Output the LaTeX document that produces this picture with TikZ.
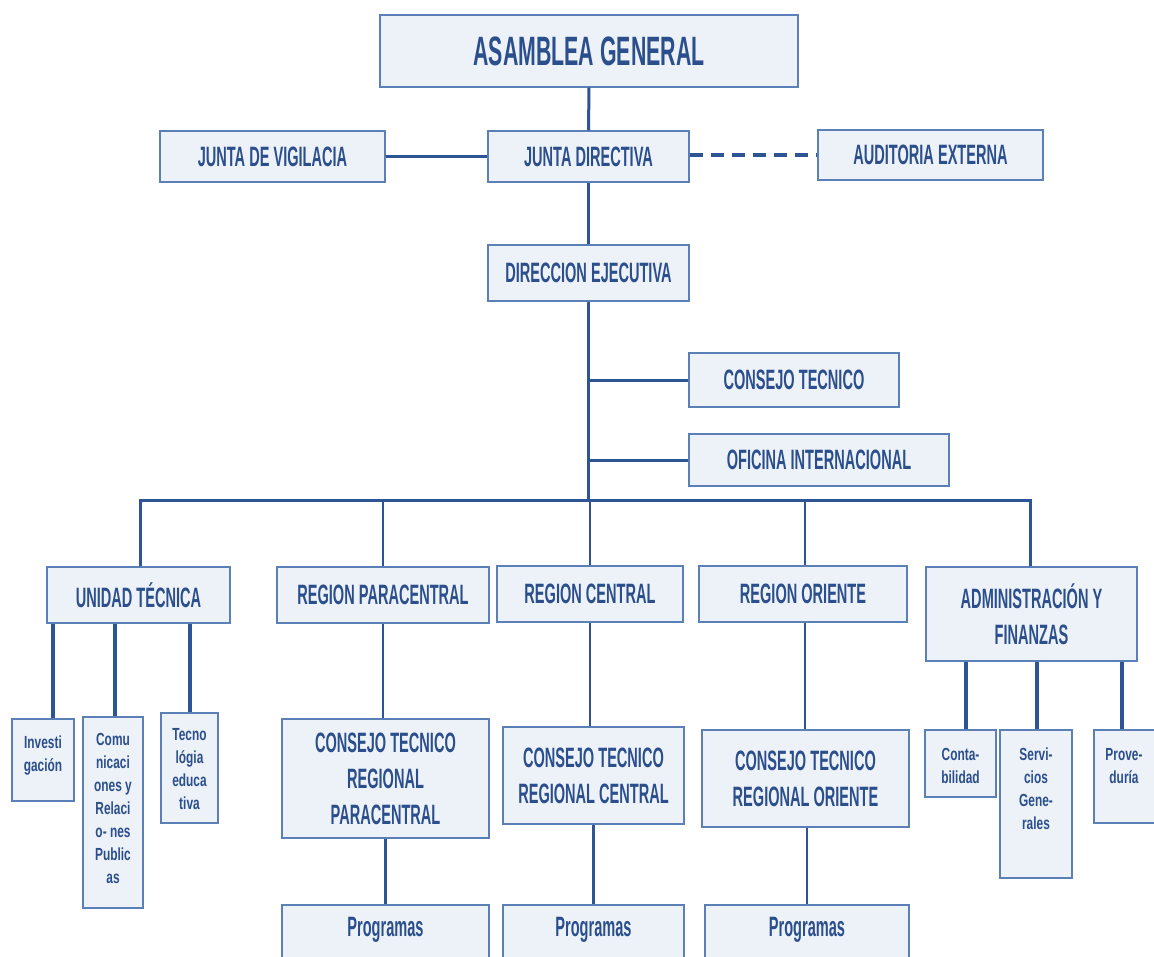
\documentclass[tikz,border=0pt]{standalone}
\usepackage{fontspec}
\newfontfamily\cfont[FakeStretch=0.52]{Liberation Sans}
\newfontfamily\sfont[FakeStretch=0.68]{Liberation Sans}
\usetikzlibrary{calc}
\definecolor{txt}{HTML}{2B4F8C}
\definecolor{bord}{HTML}{5B7FB7}
\definecolor{boxfill}{HTML}{EDF1F8}
\definecolor{conn}{HTML}{2D5595}
\tikzset{
  box/.style={draw=bord, fill=boxfill, line width=1.2pt, inner sep=0pt, text=txt, align=center,
    font={\cfont\bfseries\fontsize{28}{36}\selectfont}},
  bigtxt/.style={font={\cfont\bfseries\fontsize{41}{46}\selectfont}},
  smalltxt/.style={inner sep=0pt, text=txt, align=center, anchor=north,
    font={\sfont\bfseries\fontsize{17.5}{23}\selectfont}},
  progtxt/.style={inner sep=0pt, text=txt, font={\cfont\bfseries\fontsize{28}{36}\selectfont}},
  link/.style={draw=conn, line width=3pt},
  thinlink/.style={draw=conn, line width=2.5pt},
  thicklink/.style={draw=conn, line width=4pt},
  dlink/.style={draw=conn, line width=4pt, dash pattern=on 13pt off 8pt}
}
\begin{document}
\begin{tikzpicture}[x=1pt,y=-1pt]
\useasboundingbox (0,0) rectangle (1154,956);
\clip (0,0) rectangle (1154,956);
\fill[white] (0,0) rectangle (1154,956);

% top levels
\node[box, bigtxt, minimum width=418pt, minimum height=72pt] (asamblea) at (589,51) {ASAMBLEA GENERAL};
\node[box, minimum width=225pt, minimum height=51pt] (vigil) at (272.5,156.5) {JUNTA DE VIGILACIA};
\node[box, minimum width=201pt, minimum height=51pt] (directiva) at (588.5,156.5) {JUNTA DIRECTIVA};
\node[box, minimum width=225pt, minimum height=50pt] (auditoria) at (930.5,155) {AUDITORIA EXTERNA};
\node[box, minimum width=201pt, minimum height=56pt] (direccion) at (588.5,273) {DIRECCION EJECUTIVA};
\node[box, minimum width=210pt, minimum height=54pt] (consejo) at (794,380) {CONSEJO TECNICO};
\node[box, minimum width=260pt, minimum height=52pt] (oficina) at (819,460) {OFICINA INTERNACIONAL};

% second row
\node[box, minimum width=183pt, minimum height=56pt] (unidad) at (138.5,595) {UNIDAD TÉCNICA};
\node[box, minimum width=212pt, minimum height=56pt] (rpara) at (383,595) {REGION PARACENTRAL};
\node[box, minimum width=186pt, minimum height=56pt] (rcentral) at (590,594) {REGION CENTRAL};
\node[box, minimum width=208pt, minimum height=56pt] (roriente) at (803,594) {REGION ORIENTE};
\node[box, minimum width=211pt, minimum height=94pt] (admin) at (1031.5,614) {ADMINISTRACIÓN Y\\FINANZAS};

% unidad tecnica children
\node[box, minimum width=62pt, minimum height=82pt] (inv) at (43,760) {};
\node[smalltxt] (invt) at (43,736) {Investi\\gación};
\node[box, minimum width=60pt, minimum height=191pt] (com) at (113,812.5) {};
\node[smalltxt] (comt) at (113,733) {Comu\\nicaci\\ones y\\Relaci\\o- nes\\Public\\as};
\node[box, minimum width=57pt, minimum height=110pt] (tec) at (189.5,768) {};
\node[smalltxt] (tect) at (189.5,728) {Tecno\\lógia\\educa\\tiva};

% admin children
\node[box, minimum width=71pt, minimum height=67pt] (cont) at (960.5,763.5) {};
\node[smalltxt] (contt) at (960.5,748) {Conta-\\bilidad};
\node[box, minimum width=72pt, minimum height=148pt] (serv) at (1036,804) {};
\node[smalltxt] (servt) at (1036,748) {Servi-\\cios\\Gene-\\rales};
\node[box, minimum width=66pt, minimum height=93pt] (prov) at (1127,776.5) {};
\node[smalltxt] (provt) at (1124,748) {Prove-\\duría};

% regional councils
\node[box, minimum width=207pt, minimum height=119pt] (ctrp) at (385.5,778.5) {CONSEJO TECNICO\\REGIONAL\\PARACENTRAL};
\node[box, minimum width=181pt, minimum height=97pt] (ctrc) at (593.5,775.5) {CONSEJO TECNICO\\REGIONAL CENTRAL};
\node[box, minimum width=207pt, minimum height=97pt] (ctro) at (805.5,778.5) {CONSEJO TECNICO\\REGIONAL ORIENTE};

% programas
\node[box, minimum width=207pt, minimum height=70pt] (progp) at (385.5,940) {};
\node[progtxt] (progpt) at (385.5,930) {Programas};
\node[box, minimum width=181pt, minimum height=70pt] (progc) at (593.5,940) {};
\node[progtxt] (progct) at (593.5,930) {Programas};
\node[box, minimum width=204pt, minimum height=70pt] (progo) at (807,940) {};
\node[progtxt] (progot) at (807,930) {Programas};

\coordinate (bus) at (0,500);

% connectors
\draw[link] (asamblea.south) -- (directiva.north);
\draw[link] (vigil.east) -- (vigil.east -| directiva.west);
\draw[dlink] (auditoria.west -| directiva.east) -- (auditoria.west);
\draw[link] (directiva.south) -- (direccion.north);
\draw[link] (direccion.south) -- (direccion.south |- bus);
\draw[link] (direccion.south |- consejo.west) -- (consejo.west);
\draw[link] (direccion.south |- oficina.west) -- (oficina.west);

\draw[link, line cap=rect] ([xshift=1.5pt]unidad.north |- bus) -- ([xshift=-1.5pt]admin.north |- bus);
\draw[link] ([xshift=1.5pt]unidad.north) -- ([xshift=1.5pt]unidad.north |- bus);
\draw[thinlink] (rpara.north) -- (rpara.north |- bus);
\draw[thinlink] (rcentral.north) -- (rcentral.north |- bus);
\draw[thinlink] ([xshift=2pt]roriente.north) -- ([xshift=2pt]roriente.north |- bus);
\draw[link] ([xshift=-1.5pt]admin.north) -- ([xshift=-1.5pt]admin.north |- bus);

\draw[thicklink] ([xshift=10pt]inv.north) -- ([xshift=10pt]inv.north |- unidad.south);
\draw[thicklink] ([xshift=2pt]com.north) -- ([xshift=2pt]com.north |- unidad.south);
\draw[thicklink] (tec.north) -- (tec.north |- unidad.south);

\draw[thicklink] ([xshift=5.5pt]cont.north) -- ([xshift=5.5pt]cont.north |- admin.south);
\draw[thicklink] ([xshift=1pt]serv.north) -- ([xshift=1pt]serv.north |- admin.south);
\draw[thicklink] ([xshift=-5pt]prov.north) -- ([xshift=-5pt]prov.north |- admin.south);

\draw[thinlink] (rpara.south) -- (rpara.south |- ctrp.north);
\draw[thinlink] (ctrp.south) -- (ctrp.south |- progp.north);
\draw[thinlink] (rcentral.south) -- (rcentral.south |- ctrc.north);
\draw[thinlink] (ctrc.south) -- (ctrc.south |- progc.north);
\draw[thinlink] ([xshift=2pt]roriente.south) -- ([xshift=2pt]roriente.south |- ctro.north);
\draw[thinlink] ([xshift=1.5pt]ctro.south) -- ([xshift=1.5pt]ctro.south |- progo.north);
\end{tikzpicture}
\end{document}
